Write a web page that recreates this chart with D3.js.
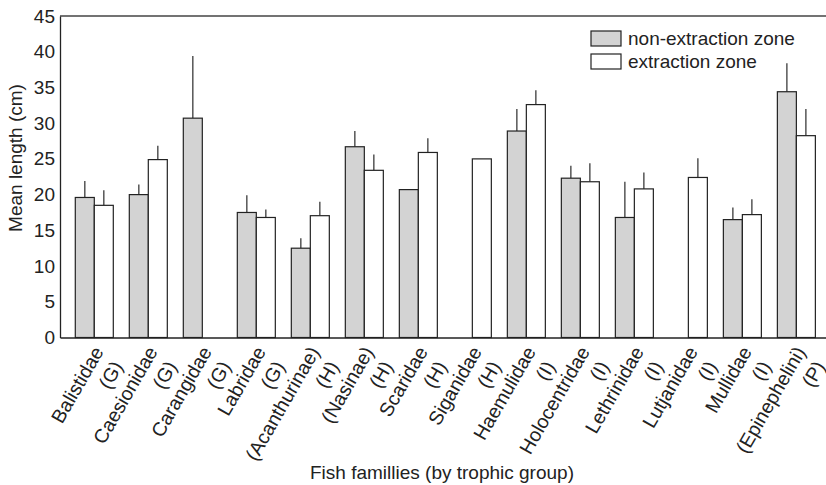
<!DOCTYPE html>
<html>
<head>
<meta charset="utf-8">
<script src="https://cdn.jsdelivr.net/npm/d3@7"></script>
<style>
  body { margin: 0; background: #fff; }
  svg { font-family: "Liberation Sans", Arial, sans-serif; }
</style>
</head>
<body>
<svg width="826" height="485"></svg>
<script>
// data
let families = ["Balistidae", "Caesionidae", "Carangidae", "Labridae", "(Acanthurinae)", "(Nasinae)",
  "Scaridae", "Siganidae", "Haemulidae", "Holocentridae", "Lethrinidae", "Lutjanidae", "Mullidae", "(Epinephelini)"];
let groups = ["(G)", "(G)", "(G)", "(G)", "(H)", "(H)", "(H)", "(H)", "(I)", "(I)", "(I)", "(I)", "(I)", "(P)"];
let nonExtraction = [19.6, 20.0, 30.7, 17.5, 12.5, 26.7, 20.7, null, 28.9, 22.3, 16.8, null, 16.5, 34.4];
let nonExtractionErr = [2.3, 1.4, 8.7, 2.4, 1.4, 2.2, 0, 0, 3.1, 1.75, 5.0, 0, 1.7, 4.0];
let extraction = [18.5, 24.9, null, 16.8, 17.05, 23.4, 25.9, 25.0, 32.6, 21.8, 20.8, 22.4, 17.2, 28.25];
let extractionErr = [2.1, 1.95, 0, 1.1, 1.95, 2.2, 2.0, 0, 2.0, 2.6, 2.3, 2.7, 2.15, 3.75];
let yTicks = [0, 5, 10, 15, 20, 25, 30, 35, 40, 45];
let seriesNames = ["non-extraction zone", "extraction zone"];
let seriesFill = ["#d3d3d3", "#ffffff"];

let mLeft = 60, mRight = 826, mTop = 16, mBottom = 337.5;
let fs = 19;
let svg = d3.select("svg");

let x = d3.scaleBand().domain(families).range([mLeft, mRight])
  .paddingInner(16 / 54).paddingOuter(0.24).align(0.59);
let xs = d3.scaleBand().domain([0, 1]).range([0, x.bandwidth()]);
let y = d3.scaleLinear().domain([0, 45]).range([mBottom, mTop]);

// build rows for bars
let rows = [];
families.forEach(function (f, i) {
  [[nonExtraction, nonExtractionErr], [extraction, extractionErr]].forEach(function (s, k) {
    if (s[0][i] != null) rows.push({ fam: f, k: k, v: s[0][i], e: s[1][i] });
  });
});

// error bars (drawn first, bars cover their base)
svg.append("g").selectAll("line")
  .data(rows.filter(function (d) { return d.e > 0; }))
  .enter()
  .append("line")
  .attr("x1", function (d) { return x(d.fam) + xs(d.k) + xs.bandwidth() / 2; })
  .attr("x2", function (d) { return x(d.fam) + xs(d.k) + xs.bandwidth() / 2; })
  .attr("y1", function (d) { return y(d.v); })
  .attr("y2", function (d) { return y(d.v + d.e); })
  .attr("stroke", "#555")
  .attr("stroke-width", 1.5);

svg.append("g").selectAll("rect")
  .data(rows)
  .enter()
  .append("rect")
  .attr("x", function (d) { return x(d.fam) + xs(d.k); })
  .attr("width", xs.bandwidth())
  .attr("y", function (d) { return y(d.v); })
  .attr("height", function (d) { return y(0) - y(d.v); })
  .attr("fill", function (d) { return seriesFill[d.k]; })
  .attr("stroke", "#222")
  .attr("stroke-width", 1.2);

// frame lines
svg.append("line").attr("x1", mLeft).attr("x2", mRight).attr("y1", mTop).attr("y2", mTop)
  .attr("stroke", "#444").attr("stroke-width", 1.3);

let yAxis = d3.axisLeft(y).tickValues(yTicks).tickSize(0).tickPadding(5);
let gy = svg.append("g").attr("transform", "translate(" + mLeft + ",0)").call(yAxis);
gy.select(".domain").attr("stroke", "#222").attr("stroke-width", 1.3);
gy.selectAll("text").attr("font-size", fs).attr("fill", "#222").attr("font-family", "Liberation Sans, Arial, sans-serif");

let xAxis = d3.axisBottom(x).tickSize(0).tickFormat("");
let gx = svg.append("g").attr("transform", "translate(0," + mBottom + ")").call(xAxis);
gx.select(".domain").attr("stroke", "#222").attr("stroke-width", 1.3);

// rotated two-line category labels
let lab = svg.append("g").selectAll("text")
  .data(families)
  .enter()
  .append("text")
  .attr("transform", function (d) {
    return "translate(" + (x(d) + 29) + "," + (mBottom + 14) + ") rotate(-60)";
  })
  .attr("text-anchor", "end")
  .attr("font-size", 19.5)
  .attr("fill", "#222");
lab.append("tspan").attr("x", 0).attr("y", 0).text(function (d) { return d; });
lab.append("tspan").attr("x", 0).attr("dx", -3).attr("dy", 24).text(function (d, i) { return groups[i]; });

// axis titles
svg.append("text")
  .attr("transform", "translate(22,158) rotate(-90)")
  .attr("text-anchor", "middle")
  .attr("font-size", fs)
  .attr("fill", "#222")
  .text("Mean length (cm)");
svg.append("text")
  .attr("x", 442)
  .attr("y", 479)
  .attr("text-anchor", "middle")
  .attr("font-size", fs)
  .attr("fill", "#222")
  .text("Fish famillies (by trophic group)");

// legend
let leg = svg.append("g").selectAll("g")
  .data(seriesNames)
  .enter()
  .append("g")
  .attr("transform", function (d, i) { return "translate(591," + (31 + i * 23) + ")"; });
leg.append("rect")
  .attr("width", 30).attr("height", 15)
  .attr("fill", function (d, i) { return seriesFill[i]; })
  .attr("stroke", "#222").attr("stroke-width", 1.2);
leg.append("text")
  .attr("x", 37).attr("y", 14)
  .attr("font-size", fs)
  .attr("fill", "#222")
  .text(function (d) { return d; });
</script>
</body>
</html>
